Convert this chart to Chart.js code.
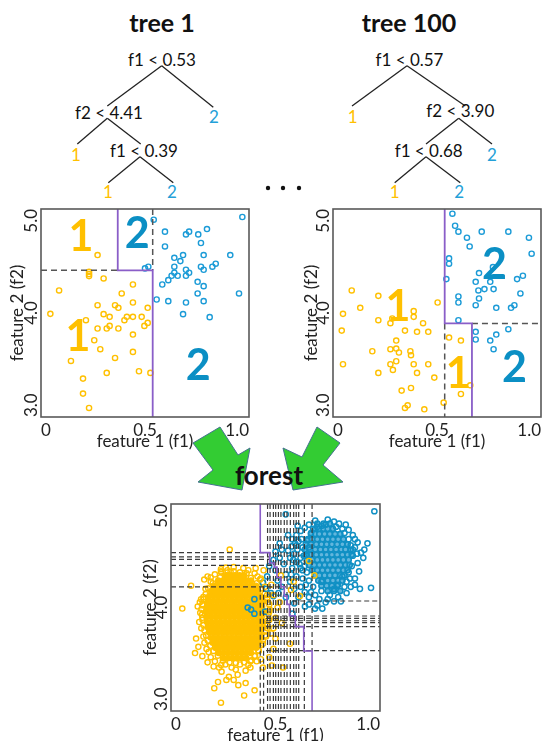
<!DOCTYPE html>
<html>
<head>
<meta charset="utf-8">
<script src="https://cdn.jsdelivr.net/npm/chart.js@4.4.1/dist/chart.umd.min.js"></script>
<style>
  html, body { margin: 0; padding: 0; background: #fff; overflow: hidden; }
  #page { position: relative; width: 545px; height: 741px; overflow: hidden; font-family: Lato, sans-serif; }
  #overlay { position: absolute; left: 0; top: 0; }
  canvas { position: absolute; }
  #tree1Chart { left: 0px; top: 195px; }
  #tree100Chart { left: 290px; top: 195px; }
  #forestChart { left: 128px; top: 490px; }
</style>
</head>
<body>
<div id="page">
  <svg id="overlay" width="545" height="741" font-family="Lato, sans-serif">
    <polygon points="193,443 220,427 238,455 250,448 242,490 198,482 213,470" fill="#33cc33" stroke="#44728f" stroke-width="1"/>
    <polygon points="317,427 340,443 323,465 343,482 293,490 283,448 302,457" fill="#33cc33" stroke="#44728f" stroke-width="1"/>
    <text x="269" y="485" font-size="26" font-weight="bold" text-anchor="middle" fill="#111">forest</text>

    <text x="162" y="32" font-size="25" font-weight="bold" text-anchor="middle" fill="#111">tree 1</text>
    <text x="409" y="32" font-size="25" font-weight="bold" text-anchor="middle" fill="#111">tree 100</text>

    <g stroke="#222" stroke-width="1.3">
      <line x1="161.7" y1="65.7" x2="107.3" y2="106"/>
      <line x1="161.7" y1="65.7" x2="213.3" y2="107.3"/>
      <line x1="107.3" y1="118.3" x2="77.3" y2="144"/>
      <line x1="107.3" y1="118.3" x2="140.7" y2="144"/>
      <line x1="140" y1="156.7" x2="108.3" y2="182.7"/>
      <line x1="140" y1="156.7" x2="173.3" y2="182.7"/>

      <line x1="407" y1="65.7" x2="352" y2="106"/>
      <line x1="407" y1="65.7" x2="465.3" y2="106"/>
      <line x1="458.7" y1="118.3" x2="426" y2="144"/>
      <line x1="458.7" y1="118.3" x2="492" y2="144"/>
      <line x1="426" y1="156.7" x2="394.7" y2="182.7"/>
      <line x1="426" y1="156.7" x2="460.3" y2="182.7"/>
    </g>

    <g font-size="17" text-anchor="middle">
      <text x="162" y="66" fill="#111">f1 &lt; 0.53</text>
      <text x="109" y="118.5" fill="#111">f2 &lt; 4.41</text>
      <text x="214" y="123" fill="#23a0d8">2</text>
      <text x="76" y="161" fill="#ffc000">1</text>
      <text x="144" y="156.5" fill="#111">f1 &lt; 0.39</text>
      <text x="108" y="198" fill="#ffc000">1</text>
      <text x="172" y="198" fill="#23a0d8">2</text>

      <text x="409.5" y="66" fill="#111">f1 &lt; 0.57</text>
      <text x="352.7" y="122.7" fill="#ffc000">1</text>
      <text x="460.3" y="116.5" fill="#111">f2 &lt; 3.90</text>
      <text x="492" y="161" fill="#23a0d8">2</text>
      <text x="428.7" y="156.5" fill="#111">f1 &lt; 0.68</text>
      <text x="394.7" y="198" fill="#ffc000">1</text>
      <text x="459.3" y="198" fill="#23a0d8">2</text>
    </g>

    <circle cx="268" cy="188" r="2.2" fill="#111"/>
    <circle cx="283" cy="188" r="2.2" fill="#111"/>
    <circle cx="299" cy="188" r="2.2" fill="#111"/>
  </svg>
  <canvas id="tree1Chart" width="255" height="262"></canvas>
  <canvas id="tree100Chart" width="255" height="262"></canvas>
  <canvas id="forestChart" width="258" height="261"></canvas>
</div>

<script>
const xTicks = [0, 0.5, 1.0];
const xTickLabels = ['0', '0.5', '1.0'];
const yTicks = [3, 4, 5];
const yTickLabels = ['3.0', '4.0', '5.0'];

// tree 1
const tree1Yellow = [
  [0.272, 4.557], [0.231, 4.396], [0.231, 4.374], [0.231, 4.355], [0.301, 4.332], [0.442, 4.274],
  [0.087, 4.217], [0.388, 4.188], [0.272, 4.075], [0.356, 4.075], [0.372, 4.050], [0.442, 4.101],
  [0.513, 4.050], [0.045, 3.992], [0.301, 3.989], [0.330, 3.963], [0.413, 3.963], [0.401, 3.931],
  [0.442, 3.963], [0.484, 3.963], [0.216, 3.931], [0.513, 3.905], [0.497, 3.876], [0.330, 3.876],
  [0.316, 3.851], [0.272, 3.851], [0.372, 3.851], [0.442, 3.793], [0.256, 3.738], [0.285, 3.652],
  [0.442, 3.626], [0.144, 3.539], [0.356, 3.568], [0.316, 3.424], [0.471, 3.440], [0.526, 3.424],
  [0.202, 3.369], [0.202, 3.225], [0.231, 3.087]
];
const tree1Blue = [
  [0.542, 4.897], [0.968, 4.923], [0.596, 4.782], [0.697, 4.756], [0.712, 4.782], [0.756, 4.756],
  [0.798, 4.807], [0.596, 4.640], [0.769, 4.673], [0.641, 4.531], [0.683, 4.557], [0.782, 4.557],
  [0.910, 4.557], [0.670, 4.499], [0.641, 4.445], [0.697, 4.416], [0.769, 4.445], [0.782, 4.416],
  [0.824, 4.445], [0.840, 4.474], [0.500, 4.429], [0.516, 4.445], [0.641, 4.387], [0.628, 4.358],
  [0.657, 4.358], [0.697, 4.358], [0.712, 4.387], [0.612, 4.316], [0.583, 4.274], [0.753, 4.300],
  [0.782, 4.258], [0.556, 4.130], [0.612, 4.114], [0.697, 4.101], [0.753, 4.188], [0.782, 4.114],
  [0.952, 4.188], [0.683, 3.989], [0.811, 3.960]
];
const tree1Border = [[0.369, 5.0], [0.369, 4.41], [0.537, 4.41], [0.537, 3.0]];
const tree1Dashes = [[0, 4.41, 0.369, 4.41], [0.537, 5.0, 0.537, 4.41]];
const tree1Regions = [
  ['1', 0.192, 4.733, 1], ['2', 0.462, 4.759, 2], ['1', 0.178, 3.770, 1], ['2', 0.756, 3.49, 2]
];

// tree 100
const tree100Yellow = [
  [0.090, 4.217], [0.218, 4.165], [0.131, 4.050], [0.503, 4.101], [0.048, 3.992], [0.388, 4.018],
  [0.388, 3.963], [0.218, 3.931], [0.285, 3.947], [0.276, 3.902], [0.433, 3.902], [0.042, 3.831],
  [0.346, 3.831], [0.404, 3.819], [0.458, 3.819], [0.304, 3.735], [0.189, 3.632], [0.276, 3.652],
  [0.304, 3.658], [0.317, 3.620], [0.372, 3.632], [0.375, 3.594], [0.558, 3.764], [0.615, 3.735],
  [0.048, 3.507], [0.304, 3.536], [0.276, 3.507], [0.288, 3.453], [0.388, 3.507], [0.458, 3.507],
  [0.218, 3.424], [0.404, 3.424], [0.487, 3.379], [0.375, 3.279], [0.330, 3.254], [0.660, 3.305],
  [0.615, 3.221], [0.359, 3.112], [0.346, 3.087], [0.532, 3.138], [0.439, 3.074]
];
const tree100Blue = [
  [0.574, 4.955], [0.587, 4.839], [0.603, 4.782], [0.644, 4.724], [0.715, 4.782], [0.843, 4.782],
  [0.942, 4.724], [0.657, 4.640], [0.955, 4.570], [0.558, 4.525], [0.558, 4.474], [0.545, 4.326],
  [0.702, 4.384], [0.769, 4.441], [0.686, 4.300], [0.756, 4.300], [0.885, 4.326], [0.913, 4.358],
  [0.699, 4.217], [0.728, 4.230], [0.772, 4.230], [0.901, 4.188], [0.702, 4.140], [0.603, 4.159],
  [0.603, 4.101], [0.686, 4.075], [0.785, 4.050], [0.856, 4.050], [0.872, 4.075], [0.603, 3.931],
  [0.686, 3.819], [0.686, 3.745], [0.756, 3.735], [0.785, 3.793], [0.843, 3.844], [0.772, 3.652]
];
const tree100Border = [[0.537, 5.0], [0.537, 3.90], [0.668, 3.90], [0.668, 3.0]];
const tree100Dashes = [[0.537, 3.90, 0.537, 3.0], [0.668, 3.90, 1.0, 3.90]];
const tree100Regions = [
  ['2', 0.776, 4.461, 2], ['1', 0.312, 4.059, 1], ['1', 0.602, 3.411, 1], ['2', 0.872, 3.469, 2]
];

// forest: dense cores given row by row [f2, [f1 ...]]
const forestYellowCore = [
  [4.31, [0.262, 0.284, 0.306, 0.328, 0.35]],
  [4.26, [0.226, 0.249, 0.271, 0.293, 0.316, 0.338, 0.36, 0.383]],
  [4.21, [0.205, 0.227, 0.25, 0.272, 0.294, 0.316, 0.338, 0.361, 0.383, 0.405]],
  [4.16, [0.193, 0.215, 0.238, 0.26, 0.283, 0.305, 0.327, 0.349, 0.372, 0.394, 0.416]],
  [4.11, [0.183, 0.205, 0.227, 0.25, 0.272, 0.294, 0.316, 0.338, 0.36, 0.383, 0.405, 0.427]],
  [4.06, [0.176, 0.198, 0.22, 0.242, 0.264, 0.286, 0.308, 0.33, 0.352, 0.375, 0.397, 0.419, 0.44]],
  [4.01, [0.172, 0.194, 0.216, 0.238, 0.26, 0.282, 0.304, 0.326, 0.348, 0.37, 0.392, 0.414, 0.436]],
  [3.96, [0.168, 0.19, 0.212, 0.234, 0.256, 0.278, 0.3, 0.322, 0.344, 0.366, 0.388, 0.41, 0.432, 0.452]],
  [3.91, [0.17, 0.192, 0.214, 0.236, 0.258, 0.28, 0.302, 0.324, 0.346, 0.368, 0.39, 0.412, 0.434]],
  [3.86, [0.172, 0.194, 0.216, 0.238, 0.26, 0.282, 0.304, 0.326, 0.348, 0.37, 0.392, 0.414, 0.436]],
  [3.81, [0.176, 0.198, 0.22, 0.242, 0.264, 0.286, 0.308, 0.33, 0.352, 0.374, 0.396, 0.418, 0.44]],
  [3.76, [0.182, 0.204, 0.226, 0.248, 0.27, 0.292, 0.314, 0.336, 0.358, 0.38, 0.402, 0.424]],
  [3.71, [0.19, 0.212, 0.234, 0.256, 0.278, 0.3, 0.322, 0.344, 0.366, 0.388, 0.41, 0.43]],
  [3.66, [0.2, 0.222, 0.244, 0.266, 0.288, 0.31, 0.332, 0.354, 0.376, 0.398, 0.418]],
  [3.61, [0.212, 0.234, 0.256, 0.278, 0.3, 0.322, 0.344, 0.366, 0.388, 0.408]],
  [3.56, [0.228, 0.25, 0.272, 0.294, 0.316, 0.338, 0.36, 0.382]],
  [3.51, [0.25, 0.272, 0.294, 0.316, 0.338, 0.36]]
];
// ring band just outside the yellow core
const forestYellowEdge = [
  [0.235, 4.29], [0.20, 4.235], [0.178, 4.185], [0.166, 4.13], [0.156, 4.08], [0.15, 4.03], [0.146, 3.985],
  [0.148, 3.93], [0.151, 3.88], [0.155, 3.83], [0.16, 3.78], [0.168, 3.73], [0.176, 3.68], [0.188, 3.63],
  [0.203, 3.58], [0.224, 3.535], [0.248, 3.485], [0.382, 4.285], [0.41, 4.235], [0.432, 4.185],
  [0.448, 4.135], [0.46, 4.085], [0.47, 4.03], [0.472, 3.98], [0.466, 3.93], [0.462, 3.875], [0.46, 3.825],
  [0.452, 3.775], [0.45, 3.73], [0.44, 3.68], [0.43, 3.635], [0.418, 3.585], [0.402, 3.535], [0.384, 3.49],
  [0.24, 4.34], [0.285, 4.345], [0.33, 4.34], [0.362, 4.33], [0.30, 4.39], [0.262, 4.385], [0.28, 3.47],
  [0.31, 3.465], [0.35, 3.47], [0.24, 3.445], [0.37, 3.445], [0.135, 3.86], [0.138, 4.05], [0.19, 4.29],
  [0.414, 4.30], [0.48, 3.75], [0.18, 3.57], [0.41, 3.48], [0.44, 4.24]
];
const forestYellowOuter = [
  [0.281, 4.56], [0.054, 3.99], [0.096, 4.21], [0.159, 4.27], [0.175, 4.30], [0.239, 4.37], [0.239, 4.35],
  [0.144, 4.08], [0.128, 4.01], [0.115, 3.56], [0.131, 3.62], [0.150, 3.53], [0.204, 3.43], [0.242, 3.38],
  [0.207, 3.22], [0.239, 3.08], [0.277, 3.33], [0.322, 3.25], [0.357, 3.27], [0.319, 3.35], [0.357, 3.39],
  [0.482, 3.44], [0.536, 3.42], [0.569, 3.65], [0.660, 4.45], [0.686, 4.31], [0.587, 4.25], [0.574, 4.17],
  [0.617, 4.11], [0.526, 4.31], [0.443, 4.36], [0.405, 4.38], [0.346, 4.38], [0.426, 4.27],
  [0.15, 3.90], [0.145, 3.80], [0.155, 3.72], [0.16, 3.66], [0.17, 3.60], [0.19, 3.52], [0.21, 3.48],
  [0.26, 3.45], [0.29, 3.42], [0.33, 3.45], [0.38, 3.48], [0.40, 3.53], [0.42, 3.58], [0.44, 3.65],
  [0.455, 3.72], [0.46, 3.80], [0.47, 3.88], [0.47, 3.96], [0.465, 4.05], [0.46, 4.12], [0.45, 4.20],
  [0.43, 4.28], [0.40, 4.33], [0.37, 4.36], [0.30, 4.35], [0.27, 4.36], [0.21, 4.32], [0.19, 4.25],
  [0.165, 4.18], [0.155, 4.10], [0.152, 4.02], [0.14, 3.95], [0.12, 3.70], [0.175, 3.47], [0.23, 3.42],
  [0.31, 3.40], [0.265, 3.30], [0.30, 3.30], [0.225, 3.28], [0.38, 3.42], [0.43, 3.50], [0.49, 3.60],
  [0.50, 3.70], [0.49, 3.80], [0.50, 3.90], [0.51, 4.00], [0.49, 4.12], [0.48, 4.22], [0.52, 4.05],
  [0.53, 3.85], [0.47, 3.52], [0.44, 3.42], [0.40, 3.20], [0.35, 3.15]
];
const forestBlueCore = [
  [4.81, [0.70, 0.73, 0.76]],
  [4.76, [0.69, 0.71, 0.73, 0.75, 0.775]],
  [4.71, [0.67, 0.69, 0.71, 0.735, 0.76, 0.785, 0.81]],
  [4.66, [0.655, 0.675, 0.70, 0.725, 0.75, 0.775, 0.80, 0.825]],
  [4.61, [0.645, 0.67, 0.695, 0.72, 0.745, 0.77, 0.795, 0.82, 0.845]],
  [4.56, [0.64, 0.665, 0.69, 0.715, 0.74, 0.765, 0.79, 0.815, 0.835, 0.86]],
  [4.51, [0.645, 0.67, 0.695, 0.72, 0.745, 0.77, 0.795, 0.82, 0.845, 0.865]],
  [4.46, [0.65, 0.675, 0.70, 0.725, 0.75, 0.775, 0.80, 0.825, 0.85]],
  [4.41, [0.66, 0.685, 0.71, 0.735, 0.76, 0.785, 0.81, 0.835, 0.855]],
  [4.36, [0.675, 0.70, 0.725, 0.75, 0.775, 0.80, 0.825, 0.845]],
  [4.31, [0.69, 0.71, 0.735, 0.76, 0.785, 0.81, 0.83]],
  [4.26, [0.705, 0.725, 0.75, 0.775, 0.80, 0.82]],
  [4.21, [0.72, 0.745, 0.77, 0.795]],
  [4.16, [0.75, 0.78, 0.81]]
];
const forestBlueOuter = [
  [0.549, 4.90], [0.973, 4.93], [0.606, 4.79], [0.804, 4.81], [0.836, 4.80], [0.721, 4.79], [0.893, 4.63],
  [0.925, 4.56], [0.909, 4.53], [0.893, 4.43], [0.957, 4.19], [0.904, 4.18], [0.880, 4.22], [0.856, 4.28],
  [0.813, 4.06], [0.724, 3.99], [0.689, 3.99], [0.641, 4.01], [0.581, 3.94], [0.593, 4.62], [0.577, 4.59],
  [0.530, 4.56], [0.399, 4.08], [0.367, 4.00], [0.383, 3.98], [0.399, 3.94], [0.450, 3.96], [0.455, 4.18],
  [0.478, 4.14], [0.490, 4.11], [0.514, 4.14], [0.56, 4.70], [0.58, 4.66], [0.60, 4.70], [0.62, 4.74],
  [0.64, 4.77], [0.66, 4.80], [0.69, 4.84], [0.75, 4.85], [0.78, 4.83], [0.85, 4.75], [0.87, 4.70],
  [0.88, 4.66], [0.86, 4.60], [0.87, 4.50], [0.865, 4.40], [0.85, 4.34], [0.83, 4.20], [0.84, 4.14],
  [0.80, 4.10], [0.78, 4.06], [0.76, 4.12], [0.74, 4.05], [0.71, 4.08], [0.69, 4.12], [0.66, 4.10],
  [0.64, 4.15], [0.62, 4.20], [0.60, 4.30], [0.58, 4.38], [0.57, 4.48], [0.56, 4.55], [0.59, 4.52],
  [0.60, 4.44], [0.62, 4.38], [0.63, 4.28], [0.61, 4.10], [0.63, 4.58], [0.61, 4.64], [0.57, 4.25],
  [0.55, 4.32], [0.54, 4.42], [0.53, 4.20], [0.52, 4.48], [0.55, 4.10], [0.59, 4.04], [0.66, 4.03],
  [0.70, 4.02], [0.47, 4.40], [0.49, 4.46], [0.50, 4.36], [0.51, 4.26], [0.44, 4.24], [0.46, 4.30],
  [0.65, 4.50], [0.64, 4.40], [0.65, 4.65], [0.67, 4.72], [0.70, 4.78], [0.74, 4.80], [0.79, 4.78],
  [0.83, 4.72], [0.85, 4.66], [0.87, 4.56], [0.82, 4.30], [0.80, 4.22], [0.78, 4.18], [0.72, 4.16],
  [0.68, 4.20], [0.66, 4.26], [0.65, 4.34], [0.90, 4.35], [0.92, 4.48], [0.94, 4.62], [0.52, 4.62],
  [0.50, 4.54], [0.62, 4.48], [0.605, 4.56], [0.66, 4.58], [0.72, 4.25], [0.84, 4.25],
  [0.625, 4.66], [0.615, 4.42], [0.635, 4.50], [0.63, 4.36], [0.645, 4.22], [0.67, 4.15], [0.75, 4.08],
  [0.86, 4.20], [0.88, 4.28], [0.89, 4.52], [0.88, 4.58], [0.82, 4.76], [0.68, 4.76], [0.585, 4.46],
  [0.575, 4.32], [0.59, 4.18], [0.60, 4.60]
];
const forestBorder = [
  [0.427, 5.0], [0.427, 4.53], [0.472, 4.53], [0.472, 4.43], [0.494, 4.43], [0.494, 4.39], [0.507, 4.39],
  [0.507, 4.29], [0.526, 4.29], [0.526, 4.20], [0.542, 4.20], [0.542, 4.11], [0.555, 4.11], [0.555, 4.03],
  [0.567, 4.03], [0.567, 3.92], [0.595, 3.92], [0.595, 3.815], [0.635, 3.815], [0.635, 3.58], [0.675, 3.58],
  [0.675, 3.0]
];
const forestSplitsF1 = [0.462, 0.474, 0.49, 0.501, 0.514, 0.526, 0.542, 0.555, 0.571, 0.587, 0.599, 0.611, 0.638];
const forestDashes = [
  [0.675, 5.0, 0.675, 3.58], [0.427, 4.2, 0.427, 3.0], [0.443, 4.2, 0.443, 3.0],
  [0, 4.53, 0.47, 4.53], [0, 4.49, 0.47, 4.49], [0, 4.465, 0.475, 4.465], [0, 4.407, 0.50, 4.407],
  [0, 4.20, 0.55, 4.20], [0.58, 4.063, 1, 4.063], [0.455, 3.918, 1, 3.918], [0.455, 3.895, 1, 3.895],
  [0.455, 3.872, 1, 3.872], [0.455, 3.853, 1, 3.853], [0.455, 3.815, 1, 3.815], [0.455, 3.583, 1, 3.583]
];

const YELLOW = '#ffc000';
const BLUE = '#1b9bd7';
const FOREST_BLUE = '#1090c4';
const BIG_BLUE = '#0b8fc4';
const PURPLE = '#8a5ec8';

function toXY(list) {
  return list.map((p) => ({ x: p[0], y: p[1] }));
}

function fromRows(rows) {
  const out = [];
  rows.forEach((row) => {
    row[1].forEach((x) => out.push({ x: x, y: row[0] }));
  });
  return out;
}

function pointSet(data, color, fill, width) {
  return {
    data: data,
    borderColor: color,
    backgroundColor: fill || 'rgba(255,255,255,0)',
    borderWidth: width || 1.4,
    pointRadius: 2.6,
    showLine: false
  };
}

function lineSet(points, color, width, dash) {
  return {
    data: points,
    showLine: true,
    borderColor: color,
    borderWidth: width,
    borderDash: dash || [],
    pointRadius: 0,
    fill: false,
    tension: 0
  };
}

function dashSets(segments, color, width, dash) {
  return segments.map((s) => lineSet([{ x: s[0], y: s[1] }, { x: s[2], y: s[3] }], color, width, dash));
}

const framePlugin = {
  id: 'frame',
  afterDatasetsDraw(chart, args, opts) {
    const ctx = chart.ctx;
    const area = chart.chartArea;
    const xs = chart.scales.x;
    const ys = chart.scales.y;
    ctx.save();
    // big class labels in each region
    (opts.regions || []).forEach((r) => {
      ctx.font = 'bold 43px Lato';
      ctx.textAlign = 'center';
      ctx.textBaseline = 'middle';
      ctx.fillStyle = r[3] === 1 ? YELLOW : BIG_BLUE;
      ctx.fillText(r[0], xs.getPixelForValue(r[1]), ys.getPixelForValue(r[2]));
    });
    ctx.strokeStyle = '#595959';
    ctx.lineWidth = 1.6;
    ctx.strokeRect(area.left, area.top, area.right - area.left, area.bottom - area.top);
    // rotated f2 tick labels
    ctx.font = '17px Lato';
    ctx.fillStyle = '#222';
    ctx.textBaseline = 'middle';
    yTicks.forEach((v, i) => {
      ctx.save();
      ctx.translate(area.left - 9, ys.getPixelForValue(v));
      ctx.rotate(-Math.PI / 2);
      ctx.textAlign = i === 0 ? 'left' : (i === yTicks.length - 1 ? 'right' : 'center');
      ctx.fillText(yTickLabels[i], 0, 0);
      ctx.restore();
    });
    ctx.restore();
  }
};

function makePlot(canvasId, geo, datasets, regions) {
  const ctx = document.getElementById(canvasId).getContext('2d');
  const font = { family: 'Lato', size: 17 };
  return new Chart(ctx, {
    type: 'scatter',
    data: { datasets: datasets },
    options: {
      responsive: false,
      animation: false,
      events: [],
      layout: { autoPadding: false, padding: { left: 0, top: 14, right: geo.right, bottom: 0 } },
      plugins: {
        legend: { display: false },
        tooltip: { enabled: false },
        frame: { regions: regions }
      },
      scales: {
        x: {
          type: 'linear',
          min: 0,
          max: 1,
          grid: { display: false, drawTicks: false },
          border: { display: false },
          afterBuildTicks: (s) => { s.ticks = xTicks.map((v) => ({ value: v })); },
          afterFit: (s) => { s.height = 40; },
          ticks: { align: 'inner', padding: 3, color: '#222', font: font, callback: (v, i) => xTickLabels[i] },
          title: { display: true, text: 'feature 1 (f1)', color: '#222', font: font, padding: { top: 0, bottom: 4.8 } }
        },
        y: {
          type: 'linear',
          min: 3,
          max: 5,
          grid: { display: false, drawTicks: false },
          border: { display: false },
          afterBuildTicks: (s) => { s.ticks = yTicks.map((v) => ({ value: v })); },
          afterFit: (s) => { s.width = geo.yw; },
          ticks: { display: false },
          title: { display: true, text: 'feature 2 (f2)', color: '#222', font: font, padding: { top: geo.titlePad, bottom: 0 } }
        }
      }
    },
    plugins: [framePlugin]
  });
}

function mainEvent() {
  const dash = [6, 4];
  makePlot('tree1Chart', { yw: 41, right: 6, titlePad: 7.3 }, [
    lineSet(toXY(tree1Border), PURPLE, 1.8),
    ...dashSets(tree1Dashes, '#555', 1.5, dash),
    pointSet(toXY(tree1Yellow), YELLOW),
    pointSet(toXY(tree1Blue), BLUE)
  ], tree1Regions);

  makePlot('tree100Chart', { yw: 43, right: 4, titlePad: 11.3 }, [
    lineSet(toXY(tree100Border), PURPLE, 1.8),
    ...dashSets(tree100Dashes, '#555', 1.5, dash),
    pointSet(toXY(tree100Yellow), YELLOW),
    pointSet(toXY(tree100Blue), BLUE)
  ], tree100Regions);

  const vertical = forestSplitsF1.map((x) => [x, 5.0, x, 3.0]);
  makePlot('forestChart', { yw: 43, right: 6, titlePad: 12.3 }, [
    lineSet(toXY(forestBorder), PURPLE, 1.6),
    ...dashSets(vertical.concat(forestDashes), '#3a3a3a', 1.2, [5, 3]),
    pointSet(toXY(forestYellowOuter), YELLOW),
    pointSet(toXY(forestBlueOuter), FOREST_BLUE, null, 1.5),
    pointSet(fromRows(forestBlueCore), FOREST_BLUE, '#62b6dd', 1.6),
    pointSet(toXY(forestYellowEdge), YELLOW),
    pointSet(fromRows(forestYellowCore), YELLOW, YELLOW)
  ], []);
}

document.addEventListener('DOMContentLoaded', () => mainEvent());
</script>
</body>
</html>
